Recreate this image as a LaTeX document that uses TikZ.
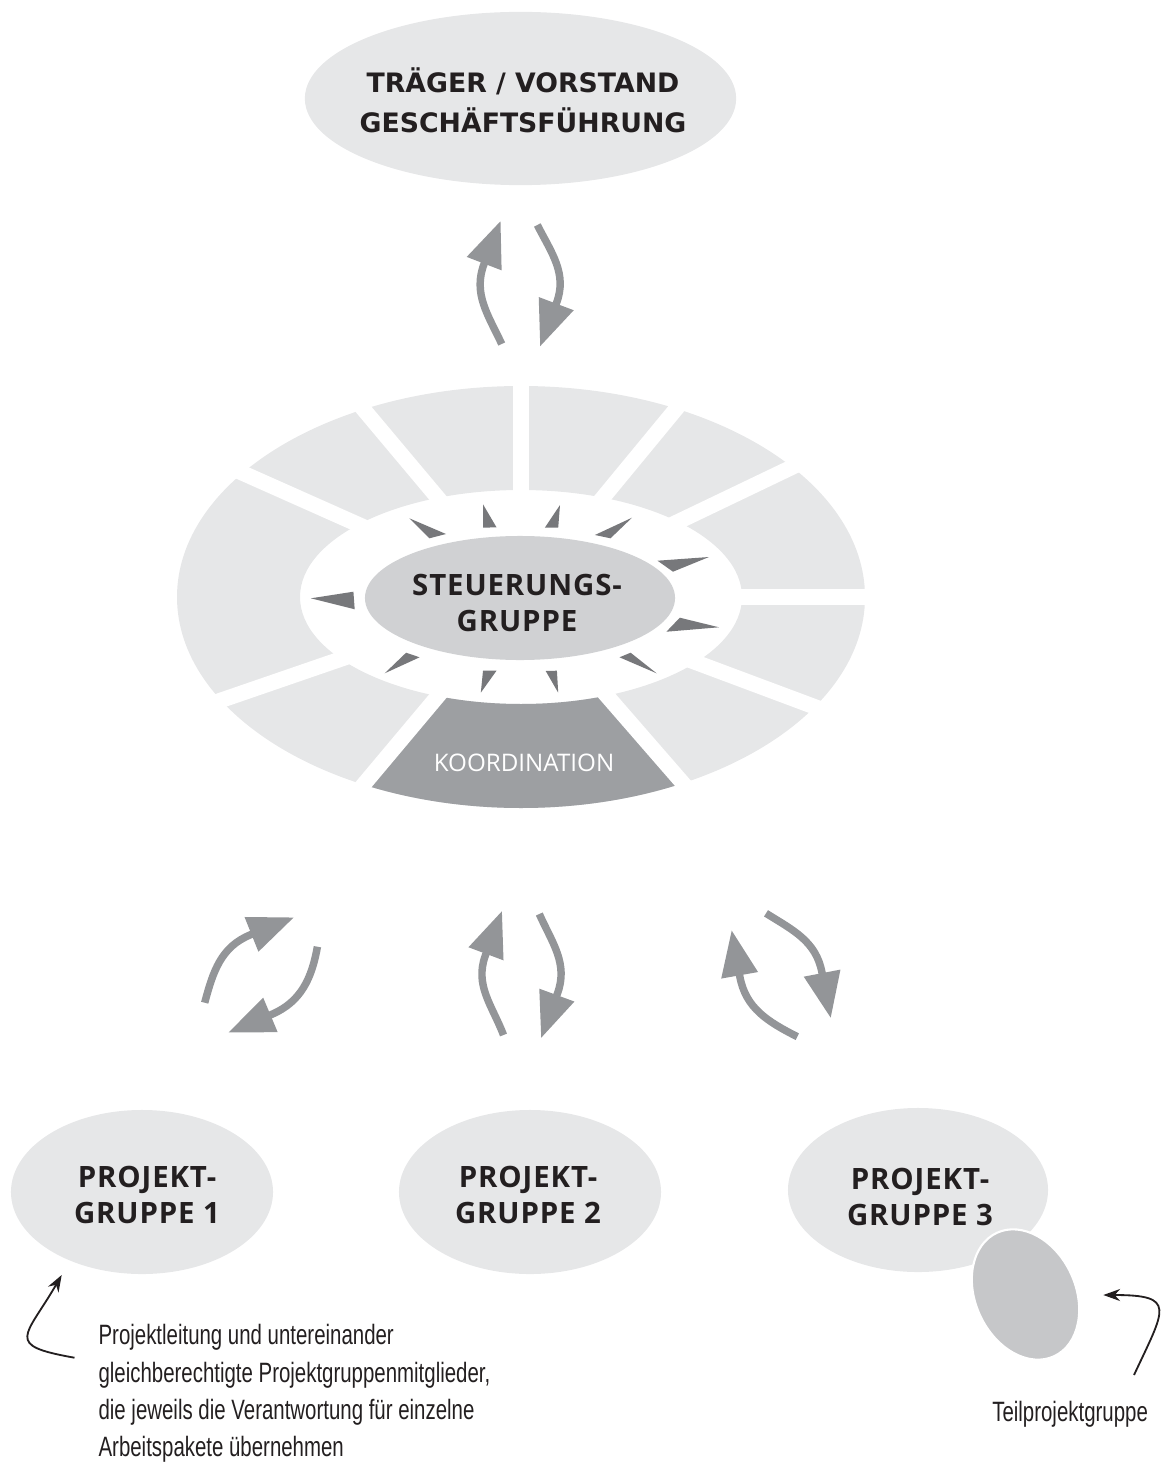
\documentclass[tikz,border=0pt]{standalone}
\usepackage{fontspec}
\usepackage{tikz}
\usetikzlibrary{arrows.meta,shapes.geometric}
\newfontfamily\headfont{Open Sans}
\newfontfamily\capsfont{Open Sans}[LetterSpace=3]
\newfontfamily\wideface{DejaVu Sans}
\newfontfamily\notefont{Liberation Sans}[FakeStretch=0.73]
\definecolor{ovalgray}{HTML}{E6E7E8}
\definecolor{steergray}{HTML}{D0D1D3}
\definecolor{koordgray}{HTML}{9D9FA2}
\definecolor{tipgray}{HTML}{77787B}
\definecolor{turngray}{HTML}{939598}
\definecolor{teilgray}{HTML}{C6C7C9}
\definecolor{ink}{HTML}{231F20}

\begin{document}
\begin{tikzpicture}[x=0.025cm,y=0.025cm,
oval/.style={ellipse, fill=ovalgray, inner sep=0pt},
caps/.style={font=\capsfont\bfseries\fontsize{20.9}{25.6}\selectfont, align=center, text=ink},
turn/.style={draw=turngray, line width=5.3pt, -{Triangle[length=1.15cm,width=0.88cm]}},
hint/.style={draw=ink, line width=1.3pt, -{Stealth[length=0.42cm,width=0.3cm]}},
note/.style={font=\notefont\fontsize{19.9}{26.5}\selectfont, align=left, inner sep=0pt, text=ink}]
\useasboundingbox (0,0) rectangle (1162,-1463);

\coordinate (ring) at (521,-597);
\fill[ovalgray, even odd rule] (ring) ellipse [x radius=344, y radius=211]
  (ring) ellipse [x radius=221, y radius=107];
\begin{scope}
\clip (ring) -- +(230:600) -- +(270:600) -- +(311:600) -- cycle;
\fill[koordgray, even odd rule] (ring) ellipse [x radius=344, y radius=211]
  (ring) ellipse [x radius=221, y radius=107];
\end{scope}
\begin{scope}
\clip (ring) ellipse [x radius=352, y radius=219];
\foreach \a in {0,25.6,50.5,90,130,156,199,230,311,339.5}
  \draw[white, line width=11pt] (ring) -- +(\a:400);
\end{scope}

\node (steuer) at (520,-598) [oval, fill=steergray, minimum width=7.75cm, minimum height=3.1cm] {};
\node (steuer text) at (517,-603) [caps] {STEUERUNGS-\\GRUPPE};
\foreach \tx/\ty/\ax/\ay/\bx/\by in {
  310.9/598.3/353.4/591.7/354.7/609.3, 409.3/518.3/429.4/538.3/446/534,
  483/504.3/483/527.7/496.5/527.3, 560/505/544.8/527.7/558.2/527.7,
  632/517.7/594.9/535/610.5/538.3, 709/557/657.5/560.7/673/571.7,
  719/627.3/666.4/631.7/679.8/617.7, 656.6/673.3/619.5/657.3/630.6/652.7,
  558.2/692.7/545.7/671/556.9/670.7, 480.8/692.7/483/670.7/496.5/670.7,
  384.7/673.3/406.1/652.7/419.6/657.3}
  \fill[tipgray] (\tx,-\ty) -- (\ax,-\ay) -- (\bx,-\by) -- cycle;
\node (koord) at (524,-763) [font=\headfont\fontsize{17.2}{20}\selectfont, text=white] {KOORDINATION};

\node (trager) at (520.5,-98.5) [oval, minimum width=10.78cm, minimum height=4.33cm] {};
\node (trager text) at (523,-100) [caps, font=\wideface\bfseries\fontsize{19}{28.5}\selectfont] {TRÄGER / VORSTAND\\GESCHÄFTSFÜHRUNG};

\node (pg1) at (142,-1192) [oval, minimum width=6.55cm, minimum height=4.1cm] {};
\node (pg2) at (530,-1192) [oval, minimum width=6.55cm, minimum height=4.1cm] {};
\node (pg3) at (918,-1190) [oval, minimum width=6.5cm, minimum height=4.1cm] {};
\node (pg1 text) at (147,-1195) [caps] {PROJEKT-\\GRUPPE 1};
\node (pg2 text) at (528,-1195) [caps] {PROJEKT-\\GRUPPE 2};
\node (pg3 text) at (920,-1197) [caps] {PROJEKT-\\GRUPPE 3};
\node (teil) at (1025.5,-1294.5) [ellipse, fill=teilgray, draw=white, line width=1.5pt,
  minimum width=2.5cm, minimum height=3.4cm, rotate=25, inner sep=0pt] {};

\node (note left) at (98.3,-1456.7) [note, anchor=base west] {Projektleitung und untereinander\\gleichberechtigte Projektgruppenmitglieder,\\die jeweils die Verantwortung für einzelne\\Arbeitspakete übernehmen};
\node (note right) at (992,-1421) [note, anchor=base west] {Teilprojektgruppe};

\coordinate (top up) at (501.7,-344);   \coordinate (top up mid) at (484.15,-263.65);  \coordinate (top up end) at (500.7,-220.7);
\coordinate (top down) at (537.3,-225); \coordinate (top down mid) at (556.35,-303.35); \coordinate (top down end) at (540,-346.7);
\coordinate (left up) at (204.7,-1002.7);  \coordinate (left up mid) at (250.75,-934.65);  \coordinate (left up end) at (294.2,-917.3);
\coordinate (left down) at (317.4,-946.7); \coordinate (left down mid) at (271.75,-1014.35); \coordinate (left down end) at (228,-1032.7);
\coordinate (mid up) at (503.5,-1035);   \coordinate (mid up mid) at (485.35,-955.5);  \coordinate (mid up end) at (502.1,-910.7);
\coordinate (mid down) at (539.3,-914);  \coordinate (mid down mid) at (557.5,-993.35); \coordinate (mid down end) at (541,-1038.3);
\coordinate (right down) at (766,-913.3);  \coordinate (right down mid) at (821.9,-972.15); \coordinate (right down end) at (830.8,-1018.3);
\coordinate (right up) at (797.3,-1036.7); \coordinate (right up mid) at (739.8,-976.3);   \coordinate (right up end) at (731.6,-930);
\coordinate (hint left) at (74.5,-1357.7); \coordinate (hint left end) at (61.7,-1275);
\coordinate (hint right) at (1134,-1375);  \coordinate (hint right end) at (1103.3,-1295);

\begin{scope}
\draw[turn] (top up) to[out=115,in=-111] (top up mid) -- (top up end);
\draw[turn] (top down) to[out=-63,in=69] (top down mid) -- (top down end);
\draw[turn] (left up) to[out=75,in=202] (left up mid) -- (left up end);
\draw[turn] (left down) to[out=-100,in=23] (left down mid) -- (left down end);
\draw[turn] (mid up) to[out=111,in=-110] (mid up mid) -- (mid up end);
\draw[turn] (mid down) to[out=-66,in=70] (mid down mid) -- (mid down end);
\draw[turn] (right down) to[out=-32,in=101] (right down mid) -- (right down end);
\draw[turn] (right up) to[out=153,in=-80] (right up mid) -- (right up end);
\draw[hint] (hint left) to[out=170,in=240,looseness=2.2] (hint left end);
\draw[hint] (hint right) to[out=65,in=0,looseness=2.2] (hint right end);
\end{scope}
\end{tikzpicture}
\end{document}
